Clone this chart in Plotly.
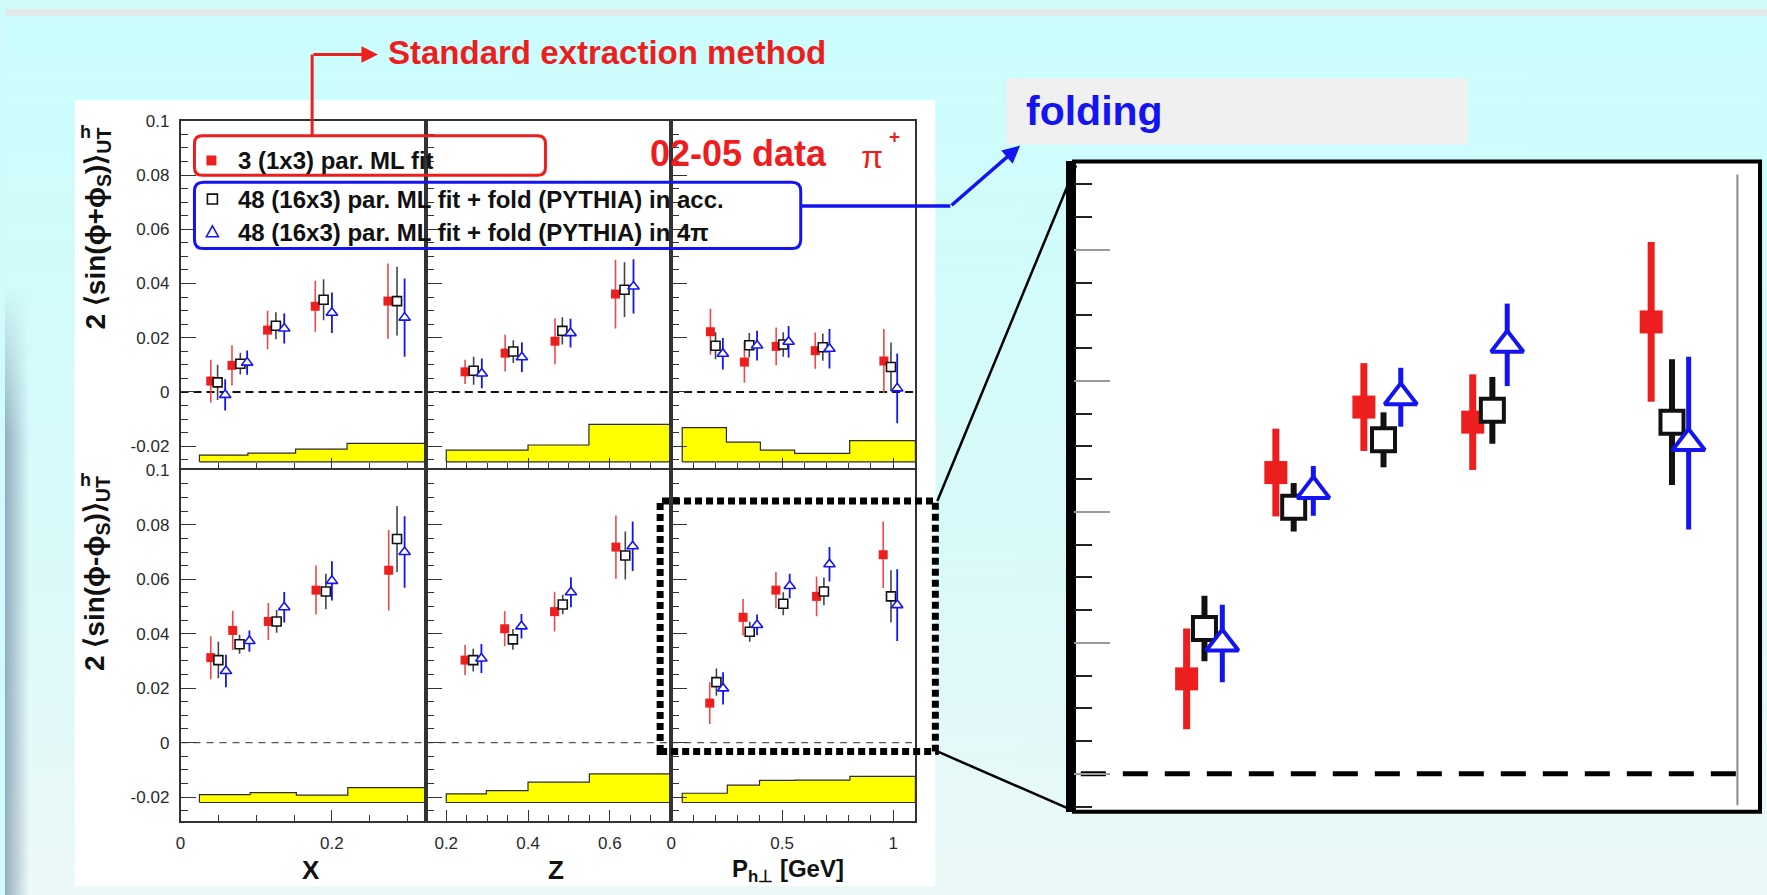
import base64
import numpy as np
import plotly.graph_objects as go

W, H = 1767, 895

# ---------------- 2<sin(phi+phi_S)>_UT  (top row) ----------------
col_x_pos_std = [0.040, 0.068, 0.115, 0.178, 0.274]
col_x_val_std = [0.0040, 0.0098, 0.0228, 0.0316, 0.0335]
col_x_err_std = [0.0079, 0.0074, 0.0071, 0.0094, 0.0139]
col_x_pos_acc = [0.049, 0.079, 0.126, 0.189, 0.286]
col_x_val_acc = [0.0035, 0.0104, 0.0244, 0.0340, 0.0335]
col_x_err_acc = [0.0065, 0.0040, 0.0050, 0.0076, 0.0127]
col_x_pos_4pi = [0.059, 0.088, 0.137, 0.200, 0.296]
col_x_val_4pi = [-0.0011, 0.0108, 0.0234, 0.0292, 0.0274]
col_x_err_4pi = [0.0058, 0.0045, 0.0055, 0.0075, 0.0144]

col_z_pos_std = [0.246, 0.344, 0.466, 0.614]
col_z_val_std = [0.0074, 0.0143, 0.0187, 0.0361]
col_z_err_std = [0.0045, 0.0068, 0.0085, 0.0127]
col_z_pos_acc = [0.267, 0.364, 0.484, 0.636]
col_z_val_acc = [0.0078, 0.0149, 0.0225, 0.0377]
col_z_err_acc = [0.0052, 0.0042, 0.0050, 0.0101]
col_z_pos_4pi = [0.287, 0.385, 0.504, 0.658]
col_z_val_4pi = [0.0068, 0.0128, 0.0217, 0.0389]
col_z_err_4pi = [0.0055, 0.0055, 0.0053, 0.0100]

col_pt_pos_std = [0.177, 0.330, 0.473, 0.649, 0.958]
col_pt_val_std = [0.0222, 0.0110, 0.0168, 0.0152, 0.0114]
col_pt_err_std = [0.0085, 0.0076, 0.0070, 0.0067, 0.0118]
col_pt_pos_acc = [0.200, 0.352, 0.505, 0.683, 0.990]
col_pt_val_acc = [0.0170, 0.0172, 0.0175, 0.0165, 0.0092]
col_pt_err_acc = [0.0050, 0.0045, 0.0045, 0.0050, 0.0090]
col_pt_pos_4pi = [0.233, 0.387, 0.529, 0.713, 1.018]
col_pt_val_4pi = [0.0141, 0.0171, 0.0185, 0.0159, 0.0013]
col_pt_err_4pi = [0.0058, 0.0055, 0.0058, 0.0073, 0.0129]

# systematic bands (bin edges, band tops, band base)
col_band_base = -0.0258
col_x_band_edges = [0.025, 0.089, 0.152, 0.220, 0.324]
col_x_band_top = [-0.0233, -0.0226, -0.0211, -0.0190]
col_z_band_edges = [0.200, 0.400, 0.549, 0.750]
col_z_band_top = [-0.0215, -0.0196, -0.0120]
col_pt_band_edges = [0.050, 0.249, 0.402, 0.556, 0.804, 1.100]
col_pt_band_top = [-0.0132, -0.0185, -0.0215, -0.0227, -0.0180]

# ---------------- 2<sin(phi-phi_S)>_UT  (bottom row) ----------------
siv_x_pos_std = [0.040, 0.069, 0.116, 0.179, 0.275]
siv_x_val_std = [0.0312, 0.0412, 0.0445, 0.0560, 0.0633]
siv_x_err_std = [0.0079, 0.0072, 0.0068, 0.0090, 0.0148]
siv_x_pos_acc = [0.050, 0.078, 0.127, 0.192, 0.286]
siv_x_val_acc = [0.0303, 0.0361, 0.0445, 0.0555, 0.0748]
siv_x_err_acc = [0.0067, 0.0035, 0.0042, 0.0065, 0.0121]
siv_x_pos_4pi = [0.060, 0.091, 0.137, 0.200, 0.296]
siv_x_val_4pi = [0.0263, 0.0373, 0.0497, 0.0594, 0.0700]
siv_x_err_4pi = [0.0060, 0.0039, 0.0056, 0.0072, 0.0131]

siv_z_pos_std = [0.246, 0.343, 0.465, 0.615]
siv_z_val_std = [0.0303, 0.0418, 0.0481, 0.0718]
siv_z_err_std = [0.0055, 0.0064, 0.0073, 0.0116]
siv_z_pos_acc = [0.266, 0.363, 0.485, 0.638]
siv_z_val_acc = [0.0303, 0.0379, 0.0507, 0.0687]
siv_z_err_acc = [0.0042, 0.0038, 0.0036, 0.0088]
siv_z_pos_4pi = [0.286, 0.384, 0.505, 0.656]
siv_z_val_4pi = [0.0309, 0.0427, 0.0552, 0.0721]
siv_z_err_4pi = [0.0053, 0.0045, 0.0055, 0.0091]

siv_pt_pos_std = [0.174, 0.324, 0.472, 0.655, 0.955]
siv_pt_val_std = [0.0145, 0.0460, 0.0560, 0.0537, 0.0690]
siv_pt_err_std = [0.0077, 0.0067, 0.0067, 0.0073, 0.0122]
siv_pt_pos_acc = [0.204, 0.354, 0.505, 0.688, 0.990]
siv_pt_val_acc = [0.0222, 0.0407, 0.0510, 0.0555, 0.0537]
siv_pt_err_acc = [0.0050, 0.0037, 0.0042, 0.0051, 0.0096]
siv_pt_pos_4pi = [0.234, 0.387, 0.534, 0.713, 1.018]
siv_pt_val_4pi = [0.0199, 0.0432, 0.0575, 0.0655, 0.0505]
siv_pt_err_4pi = [0.0059, 0.0038, 0.0045, 0.0063, 0.0132]

siv_band_base = -0.0220
siv_x_band_edges = [0.025, 0.092, 0.153, 0.221, 0.324]
siv_x_band_top = [-0.0191, -0.0184, -0.0193, -0.0165]
siv_z_band_edges = [0.200, 0.298, 0.400, 0.550, 0.750]
siv_z_band_top = [-0.0188, -0.0176, -0.0145, -0.0115]
siv_pt_band_edges = [0.050, 0.253, 0.398, 0.557, 0.805, 1.100]
siv_pt_band_top = [-0.0186, -0.0156, -0.0139, -0.0138, -0.0124]

# axis labels / ticks
x_titles = ['<b>X</b>', '<b>Z</b>', '<b>P<sub>h\u22a5</sub> [GeV]</b>']
x_tickvals = [[0, 0.2], [0.2, 0.4, 0.6], [0, 0.5, 1.0]]
x_ticktext = [['0', '0.2'], ['0.2', '0.4', '0.6'], ['0', '0.5', '1']]
y_tickvals = [-0.02, 0, 0.02, 0.04, 0.06, 0.08, 0.1]
y_ticktext = ['-0.02', '0', '0.02', '0.04', '0.06', '0.08', '0.1']
legend_labels = ['3 (1x3) par. ML fit',
                 '48 (16x3) par. ML fit + fold (PYTHIA) in acc.',
                 '48 (16x3) par. ML fit + fold (PYTHIA) in 4\u03c0']

# ---------------- styling / geometry ----------------
RED = '#EC1E1E'
BLUE = '#1414F2'
INK = '#111111'
AXIS = '#333333'
FONT = 'Liberation Sans, Arial, Helvetica, sans-serif'

COL_PX = [(176, 422), (422, 668), (668, 913)]
ROW_PX = [(113, 464), (466, 820)]
X_RANGE = [[0.0, 0.324], [0.15, 0.75], [0.0, 1.1]]
Y_RANGE = [[-0.0282, 0.1], [-0.0287, 0.1]]
X_MINOR = [0.05, 0.05, 0.1]
BIG_X = (1072, 1760)
BIG_Y = (154, 811)


def px(x):
    return x / W


def py(y):
    return 1 - y / H


SMALL = [
    dict(symbol='square', size=9, fill=RED, edge=RED, edgew=0, bar='#F04848', barw=1.6),
    dict(symbol='square', size=9, fill='white', edge=INK, edgew=1.6, bar='#444444', barw=1.6),
    dict(symbol='triangle-up', size=10, fill='white', edge=BLUE, edgew=1.6, bar=BLUE, barw=1.8),
]
BIG = [
    dict(symbol='square', size=23, fill=RED, edge=RED, edgew=0, bar=RED, barw=7),
    dict(symbol='square', size=23, fill='white', edge=INK, edgew=4, bar=INK, barw=6),
    dict(symbol='triangle-up', size=28, fill='white', edge=BLUE, edgew=4, bar=BLUE, barw=5),
]

PANELS = [
    dict(series=[(col_x_pos_std, col_x_val_std, col_x_err_std),
                 (col_x_pos_acc, col_x_val_acc, col_x_err_acc),
                 (col_x_pos_4pi, col_x_val_4pi, col_x_err_4pi)],
         band=(col_x_band_edges, col_x_band_top, col_band_base)),
    dict(series=[(col_z_pos_std, col_z_val_std, col_z_err_std),
                 (col_z_pos_acc, col_z_val_acc, col_z_err_acc),
                 (col_z_pos_4pi, col_z_val_4pi, col_z_err_4pi)],
         band=(col_z_band_edges, col_z_band_top, col_band_base)),
    dict(series=[(col_pt_pos_std, col_pt_val_std, col_pt_err_std),
                 (col_pt_pos_acc, col_pt_val_acc, col_pt_err_acc),
                 (col_pt_pos_4pi, col_pt_val_4pi, col_pt_err_4pi)],
         band=(col_pt_band_edges, col_pt_band_top, col_band_base)),
    dict(series=[(siv_x_pos_std, siv_x_val_std, siv_x_err_std),
                 (siv_x_pos_acc, siv_x_val_acc, siv_x_err_acc),
                 (siv_x_pos_4pi, siv_x_val_4pi, siv_x_err_4pi)],
         band=(siv_x_band_edges, siv_x_band_top, siv_band_base)),
    dict(series=[(siv_z_pos_std, siv_z_val_std, siv_z_err_std),
                 (siv_z_pos_acc, siv_z_val_acc, siv_z_err_acc),
                 (siv_z_pos_4pi, siv_z_val_4pi, siv_z_err_4pi)],
         band=(siv_z_band_edges, siv_z_band_top, siv_band_base)),
    dict(series=[(siv_pt_pos_std, siv_pt_val_std, siv_pt_err_std),
                 (siv_pt_pos_acc, siv_pt_val_acc, siv_pt_err_acc),
                 (siv_pt_pos_4pi, siv_pt_val_4pi, siv_pt_err_4pi)],
         band=(siv_pt_band_edges, siv_pt_band_top, siv_band_base)),
]


def step_polygon(edges, tops, base):
    xs, ys = [edges[0]], [base]
    for i, t in enumerate(tops):
        xs += [edges[i], edges[i + 1]]
        ys += [t, t]
    xs += [edges[-1], edges[0]]
    ys += [base, base]
    return xs, ys


def add_series(fig, data, st, xid, yid):
    xs, ys, es = data
    fig.add_trace(go.Scatter(
        x=xs, y=ys, mode='markers', xaxis=xid, yaxis=yid,
        marker=dict(symbol=st['symbol'], size=st['size'], color=st['fill'],
                    line=dict(color=st['edge'], width=st['edgew'])),
        error_y=dict(type='data', array=es, visible=True, color=st['bar'],
                     thickness=st['barw'], width=0),
        cliponaxis=False, showlegend=False, hoverinfo='skip'))


fig = go.Figure()
layout = {}
shapes = []
annotations = []

tickfont = dict(family=FONT, size=17, color='#2a2a2a')

for i, panel in enumerate(PANELS):
    r, c = divmod(i, 3)
    n = i + 1
    sfx = '' if n == 1 else str(n)
    xid, yid = 'x' + sfx, 'y' + sfx

    bx, by = step_polygon(*panel['band'])
    fig.add_trace(go.Scatter(x=bx, y=by, mode='lines', fill='toself',
                             fillcolor='#FFFF00', line=dict(color='#2b2b2b', width=1.2),
                             xaxis=xid, yaxis=yid, showlegend=False, hoverinfo='skip'))
    for data, st in zip(panel['series'], SMALL):
        add_series(fig, data, st, xid, yid)

    lo, hi = X_RANGE[c]
    xminor = [v for v in np.arange(lo, hi + 1e-9, X_MINOR[c])]
    yminor = [v for v in np.arange(-0.025, 0.1001, 0.005)]
    layout['xaxis' + sfx] = dict(
        domain=[px(COL_PX[c][0]), px(COL_PX[c][1])], range=X_RANGE[c], anchor=yid,
        showgrid=False, zeroline=False, showline=True, linecolor=AXIS, linewidth=1.5,
        mirror=True, ticks='inside', ticklen=11, tickwidth=1.4, tickcolor=AXIS,
        tickmode='array', tickvals=x_tickvals[c], ticktext=x_ticktext[c],
        showticklabels=(r == 1), tickfont=tickfont, ticklabelstandoff=6,
        minor=dict(tickmode='array', tickvals=xminor, ticks='inside', ticklen=6,
                   tickwidth=1.2, tickcolor=AXIS))
    layout['yaxis' + sfx] = dict(
        domain=[py(ROW_PX[r][1]), py(ROW_PX[r][0])], range=Y_RANGE[r], anchor=xid,
        showgrid=False, zeroline=False, showline=True, linecolor=AXIS, linewidth=1.5,
        mirror=True, ticks='inside', ticklen=16, tickwidth=1.4, tickcolor=AXIS,
        tickmode='array', tickvals=y_tickvals, ticktext=y_ticktext,
        showticklabels=(c == 0), tickfont=tickfont, ticklabelstandoff=6,
        minor=dict(tickmode='array', tickvals=yminor, ticks='inside', ticklen=8,
                   tickwidth=1.2, tickcolor=AXIS))

    # dashed zero line
    if r == 0:
        zl = dict(color='#111111', width=2, dash='8px,5px')
    else:
        zl = dict(color='#555555', width=1.2, dash='7px,6px')
    shapes.append(dict(type='line', xref=xid + ' domain', yref=yid, x0=0, x1=1,
                       y0=0, y1=0, line=zl, layer='below'))

# ---------------- enlarged P_h-perp panel ----------------
for data, st in zip(PANELS[5]['series'], BIG):
    add_series(fig, data, st, 'x7', 'y7')

layout['xaxis7'] = dict(domain=[px(BIG_X[0]), px(BIG_X[1])], range=[-0.0154, 1.138],
                        anchor='y7', showgrid=False, zeroline=False, showline=False,
                        showticklabels=False, ticks='')
layout['yaxis7'] = dict(domain=[py(BIG_Y[1]), py(BIG_Y[0])], range=[-0.0058, 0.0935],
                        anchor='x7', showgrid=False, zeroline=False, showline=True,
                        linecolor='black', linewidth=8, ticks='inside', ticklen=36,
                        tickwidth=2, tickcolor='#9a9a9a', tickmode='array',
                        tickvals=[0, 0.02, 0.04, 0.06, 0.08], showticklabels=False,
                        minor=dict(tickmode='array',
                                   tickvals=list(np.arange(-0.005, 0.0921, 0.005)),
                                   ticks='inside', ticklen=18, tickwidth=2,
                                   tickcolor='#222222'))

shapes.append(dict(type='line', xref='x7', yref='y7 domain', x0=1.1, x1=1.1,
                   y0=0.01, y1=0.98, line=dict(color='#8a8a8a', width=2), layer='below'))
shapes.append(dict(type='line', xref='x7 domain', yref='y7', x0=0.01, x1=0.985,
                   y0=0, y1=0, line=dict(color='black', width=5, dash='25px,17px'),
                   layer='below'))


def rect(x0, y0, x1, y1, **kw):
    return dict(type='rect', xref='paper', yref='paper', x0=px(x0), x1=px(x1),
                y0=py(y1), y1=py(y0), **kw)


def seg(x0, y0, x1, y1, color, width, dash=None, layer='above'):
    line = dict(color=color, width=width)
    if dash:
        line['dash'] = dash
    return dict(type='line', xref='paper', yref='paper', x0=px(x0), y0=py(y0),
                x1=px(x1), y1=py(y1), line=line, layer=layer)


def rounded(x0, y0, x1, y1, rad, color, width):
    X0, X1, Yt, Yb = px(x0), px(x1), py(y0), py(y1)
    rx, ry = rad / W, rad / H
    p = (f'M {X0+rx},{Yt} L {X1-rx},{Yt} Q {X1},{Yt} {X1},{Yt-ry} '
         f'L {X1},{Yb+ry} Q {X1},{Yb} {X1-rx},{Yb} L {X0+rx},{Yb} '
         f'Q {X0},{Yb} {X0},{Yb+ry} L {X0},{Yt-ry} Q {X0},{Yt} {X0+rx},{Yt} Z')
    return dict(type='path', xref='paper', yref='paper', path=p,
                line=dict(color=color, width=width), layer='above')


# canvas backgrounds
background = [
    rect(70, 92, 933, 886, fillcolor='white', line=dict(width=0), layer='below'),
    rect(BIG_X[0], BIG_Y[0], BIG_X[1], BIG_Y[1], fillcolor='white',
         line=dict(color='black', width=4), layer='below'),
    rect(1004, 70, 1467, 137, fillcolor='#F0F0F0', line=dict(width=0), layer='below'),
]
shapes = background + shapes

# zoom box and its connectors
shapes += [
    rect(657, 497, 933, 750, line=dict(color='black', width=7, dash='7px,4px'),
         layer='above'),
    seg(935, 497, 1074, 158, 'black', 2.5),
    seg(935, 750, 1074, 811, 'black', 2.5),
]

# legend frames, markers, pointer lines
shapes += [
    rounded(190, 128, 542, 168, 8, RED, 3),
    rounded(190, 175, 798, 242, 9, BLUE, 3),
    rect(202, 148, 212, 158, fillcolor=RED, line=dict(width=0), layer='above'),
    rect(203, 187, 213, 197, fillcolor='white', line=dict(color=INK, width=1.6),
         layer='above'),
    dict(type='path', xref='paper', yref='paper', layer='above',
         path=f'M {px(202)},{py(230)} L {px(214)},{py(230)} L {px(208)},{py(219)} Z',
         line=dict(color=BLUE, width=1.6), fillcolor='white'),
    seg(308, 128, 308, 46, RED, 3),
    seg(798, 199, 948, 199, BLUE, 3.5),
]

# slide background: cyan vertical gradient, grey top rim, bluish left edge fading in
svg = (
    "<svg xmlns='http://www.w3.org/2000/svg' width='1767' height='895'>"
    "<defs>"
    "<linearGradient id='v' x1='0' y1='0' x2='0' y2='1'>"
    "<stop offset='0' stop-color='#CBFDFD'/><stop offset='0.55' stop-color='#D8FAFA'/>"
    "<stop offset='1' stop-color='#ECF8F8'/></linearGradient>"
    "<linearGradient id='h' x1='0' y1='0' x2='1' y2='0'>"
    "<stop offset='0' stop-color='#8EA8BA' stop-opacity='0.95'/>"
    "<stop offset='1' stop-color='#8EA8BA' stop-opacity='0'/></linearGradient>"
    "<linearGradient id='t' x1='0' y1='0' x2='0' y2='1'>"
    "<stop offset='0' stop-color='white' stop-opacity='0'/>"
    "<stop offset='0.25' stop-color='white' stop-opacity='1'/>"
    "<stop offset='1' stop-color='white' stop-opacity='1'/></linearGradient>"
    "<mask id='m' maskUnits='userSpaceOnUse' x='0' y='0' width='1767' height='895'>"
    "<rect x='0' y='280' width='30' height='615' fill='url(#t)'/></mask>"
    "</defs>"
    "<rect width='1767' height='895' fill='url(#v)'/>"
    "<rect x='0' y='0' width='1767' height='7' fill='#E2E9E9'/>"
    "<rect x='0' y='280' width='24' height='615' fill='url(#h)' mask='url(#m)'/>"
    "</svg>"
)
bg_image = dict(source='data:image/svg+xml;base64,' + base64.b64encode(svg.encode()).decode(),
                xref='paper', yref='paper', x=0, y=1, sizex=1, sizey=1,
                sizing='stretch', xanchor='left', yanchor='top', layer='below')


def text(x, y, s, size, color=INK, xanchor='left', yanchor='middle', angle=0):
    return dict(x=px(x), y=py(y), xref='paper', yref='paper', text=s, showarrow=False,
                xanchor=xanchor, yanchor=yanchor, textangle=angle,
                font=dict(family=FONT, size=size, color=color))


annotations += [
    text(382, 44, '<b>Standard extraction method</b>', 33, RED),
    text(1022, 103, '<b>folding</b>', 41, BLUE),
    text(645, 146, '<b>02-05 data</b>', 36, RED),
    text(856, 150, '\u03c0', 32, RED),
    text(885, 129, '<b>+</b>', 19, RED),
    text(232, 153, '<b>' + legend_labels[0] + '</b>', 24),
    text(232, 192, '<b>' + legend_labels[1] + '</b>', 24),
    text(232, 226, '<b>' + legend_labels[2] + '</b>', 24),
    text(307, 870, x_titles[0], 26, xanchor='center'),
    text(553, 870, x_titles[1], 26, xanchor='center'),
    text(785, 870, x_titles[2], 24, xanchor='center'),
    text(93, 222, '<b>2 \u27e8sin(\u03d5+\u03d5<sub>S</sub>)\u27e9<sub>UT</sub></b>', 28,
         xanchor='center', angle=-90),
    text(81, 124, '<b>h</b>', 18, xanchor='center'),
    text(92, 570, '<b>2 \u27e8sin(\u03d5-\u03d5<sub>S</sub>)\u27e9<sub>UT</sub></b>', 28,
         xanchor='center', angle=-90),
    text(81, 476, '<b>h</b>', 18, xanchor='center'),
    # pointer arrows
    dict(x=px(374), y=py(46), xref='paper', yref='paper', text='', showarrow=True,
         ax=-66, ay=0, arrowhead=2, arrowsize=1.1, arrowwidth=3, arrowcolor=RED),
    dict(x=px(1018), y=py(138), xref='paper', yref='paper', text='', showarrow=True,
         ax=-70, ay=61, arrowhead=2, arrowsize=1.0, arrowwidth=3.5, arrowcolor=BLUE),
]

fig.update_layout(
    width=W, height=H, margin=dict(l=0, r=0, t=0, b=0),
    paper_bgcolor='#CFFBFB', plot_bgcolor='rgba(0,0,0,0)',
    shapes=shapes, annotations=annotations, images=[bg_image],
    showlegend=False, font=dict(family=FONT), **layout)

fig.write_html('out.html')
